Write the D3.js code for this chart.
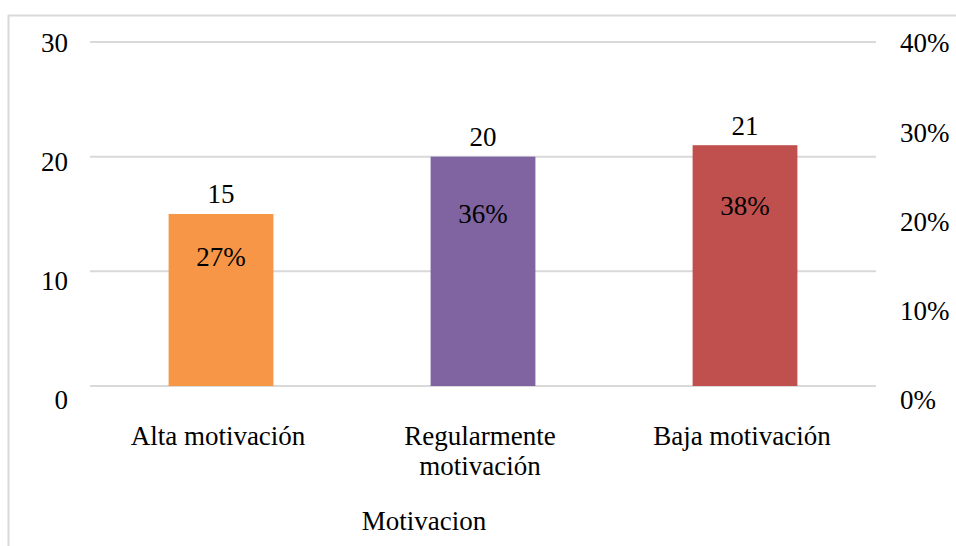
<!DOCTYPE html>
<meta charset="utf-8">
<style>
body { margin: 0; background: #fff; }
text { font-family: "Liberation Serif", "Times New Roman", serif; fill: #000; }
</style>
<svg width="956" height="546"></svg>
<script src="https://cdn.jsdelivr.net/npm/d3@7"></script>
<script>

var categories = ["Alta motivación", "Regularmente motivación", "Baja motivación"],
    counts = [15, 20, 21],
    percents = ["27%", "36%", "38%"],
    leftTicks = [0, 10, 20, 30],
    rightTicks = [0, 0.1, 0.2, 0.3, 0.4],
    colors = ["#F79646", "#8064A2", "#C0504D"],
    axisTitle = "Motivacion";

var svg = d3.select("svg"),
    fontSize = 27;

// chart border (runs off the right and bottom edges)
svg.append("rect")
    .attr("x", 8.5).attr("y", 15.5)
    .attr("width", 1000).attr("height", 600)
    .attr("fill", "none")
    .attr("stroke", "#d9d9d9")
    .attr("stroke-width", 2);

var x = d3.scaleBand()
    .domain(categories)
    .range([90, 876])
    .paddingInner(0.6)
    .paddingOuter(0.3);

var y = d3.scaleLinear().domain([0, 30]).range([386, 42]);
// tick labels sit a bit lower than the gridlines toward the bottom
var yLab = d3.scaleLinear().domain([0, 30]).range([400, 43]);
var yPct = d3.scaleLinear().domain([0, 0.4]).range([400, 43]);

// gridlines
svg.append("g").selectAll("line")
  .data(leftTicks)
  .enter().append("line")
    .attr("x1", 90).attr("x2", 876)
    .attr("y1", function(d) { return y(d); })
    .attr("y2", function(d) { return y(d); })
    .attr("stroke", "#d9d9d9")
    .attr("stroke-width", 2);

// left axis labels
svg.append("g").selectAll("text")
  .data(leftTicks)
  .enter().append("text")
    .attr("x", 68)
    .attr("y", function(d) { return yLab(d); })
    .attr("dy", "0.35em")
    .attr("text-anchor", "end")
    .style("font-size", fontSize + "px")
    .text(function(d) { return d; });

// right axis labels
svg.append("g").selectAll("text")
  .data(rightTicks)
  .enter().append("text")
    .attr("x", 900)
    .attr("y", function(d) { return yPct(d); })
    .attr("dy", "0.35em")
    .style("font-size", fontSize + "px")
    .text(d3.format(".0%"));

// bars
svg.append("g").selectAll("rect")
  .data(counts)
  .enter().append("rect")
    .attr("x", function(d, i) { return x(categories[i]); })
    .attr("y", function(d) { return y(d); })
    .attr("width", x.bandwidth())
    .attr("height", function(d) { return y(0) - y(d); })
    .attr("fill", function(d, i) { return colors[i]; });

// value labels above bars
svg.append("g").selectAll("text")
  .data(counts)
  .enter().append("text")
    .attr("x", function(d, i) { return x(categories[i]) + x.bandwidth() / 2; })
    .attr("y", function(d) { return y(d) - 20; })
    .attr("dy", "0.35em")
    .attr("text-anchor", "middle")
    .style("font-size", fontSize + "px")
    .text(function(d) { return d; });

// percent labels inside bars
svg.append("g").selectAll("text")
  .data(percents)
  .enter().append("text")
    .attr("x", function(d, i) { return x(categories[i]) + x.bandwidth() / 2; })
    .attr("y", function(d, i) { return y(counts[i]) + (y(0) - y(counts[i])) * 0.25; })
    .attr("dy", "0.35em")
    .attr("text-anchor", "middle")
    .style("font-size", fontSize + "px")
    .text(function(d) { return d; });

// category labels, wrapped like the original
var wraps = { "Regularmente motivación": ["Regularmente", "motivación"] };
var cat = svg.append("g").selectAll("text")
  .data(categories)
  .enter().append("text")
    .attr("text-anchor", "middle")
    .style("font-size", fontSize + "px");

cat.each(function(d) {
  var lines = wraps[d] || [d],
      cx = x(d) + x.bandwidth() / 2;
  var t = d3.select(this);
  lines.forEach(function(l, k) {
    t.append("tspan")
      .attr("x", cx - 3)
      .attr("y", 436 + k * 30)
      .attr("dy", "0.35em")
      .text(l);
  });
});

svg.append("text")
    .attr("x", 424)
    .attr("y", 521)
    .attr("dy", "0.35em")
    .attr("text-anchor", "middle")
    .style("font-size", fontSize + "px")
    .text(axisTitle);

</script>
